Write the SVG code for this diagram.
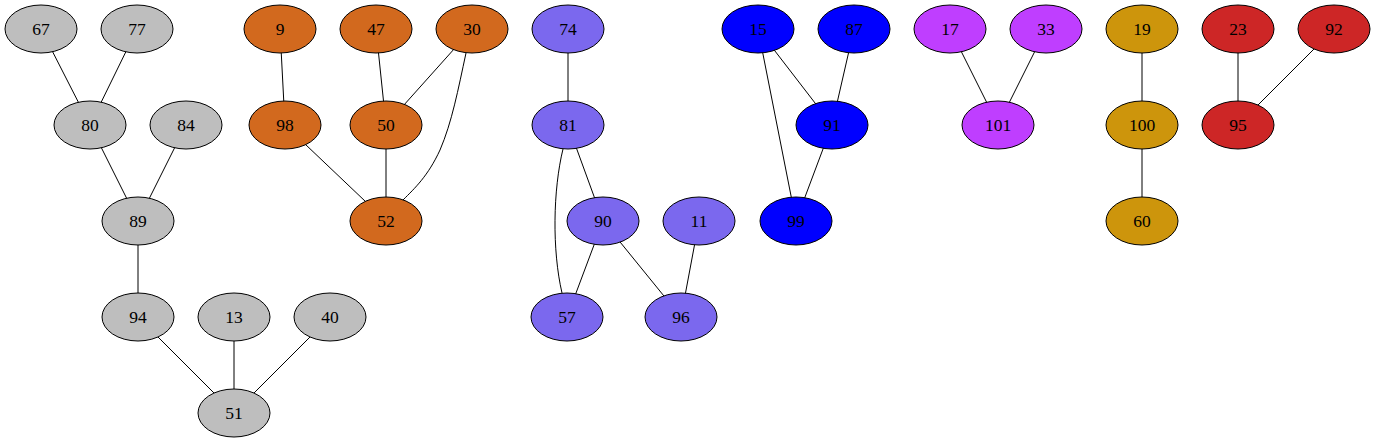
<svg xmlns="http://www.w3.org/2000/svg" width="1376" height="443" viewBox="0 0 1376 443">
<style>
.n ellipse{stroke:#000;stroke-width:1}
.n text{font-family:"Liberation Serif","Times New Roman",serif;font-size:17.5px;text-anchor:middle;fill:#000}
.e line,.e path{stroke:#000;stroke-width:1;fill:none}
.gray ellipse{fill:#bebebe}
.org ellipse{fill:#d2691e}
.sla ellipse{fill:#7b68ee}
.blu ellipse{fill:#0000ff}
.pur ellipse{fill:#bf3eff}
.gld ellipse{fill:#cd950c}
.red ellipse{fill:#cd2626}
</style>
<rect width="1376" height="443" fill="#fff"/>
<g id="edges" class="e">
<line x1="41" y1="29" x2="90" y2="125"/>
<line x1="137" y1="29" x2="90" y2="125"/>
<line x1="90" y1="125" x2="138" y2="221"/>
<line x1="186" y1="125" x2="138" y2="221"/>
<line x1="138" y1="221" x2="138" y2="317"/>
<line x1="138" y1="317" x2="234" y2="413"/>
<line x1="234" y1="317" x2="234" y2="413"/>
<line x1="330" y1="317" x2="234" y2="413"/>
<line x1="280" y1="29" x2="285" y2="125"/>
<line x1="285" y1="125" x2="386" y2="221"/>
<line x1="376" y1="29" x2="386" y2="125"/>
<line x1="472" y1="29" x2="386" y2="125"/>
<line x1="386" y1="125" x2="386" y2="221"/>
<path d="M466,53 C458,90 452,122 440,150 C428,176 415,188 403,200"/>
<line x1="568" y1="29" x2="568" y2="125"/>
<line x1="568" y1="125" x2="603" y2="221"/>
<path d="M563,149 C553,190 552,250 562,293"/>
<line x1="603" y1="221" x2="567" y2="317"/>
<line x1="603" y1="221" x2="681" y2="317"/>
<line x1="699" y1="221" x2="681" y2="317"/>
<line x1="758" y1="29" x2="832" y2="125"/>
<line x1="758" y1="29" x2="796" y2="221"/>
<line x1="854" y1="29" x2="832" y2="125"/>
<line x1="832" y1="125" x2="796" y2="221"/>
<line x1="950" y1="29" x2="998" y2="125"/>
<line x1="1046" y1="29" x2="998" y2="125"/>
<line x1="1142" y1="29" x2="1142" y2="125"/>
<line x1="1142" y1="125" x2="1142" y2="221"/>
<line x1="1238" y1="29" x2="1238" y2="125"/>
<line x1="1334" y1="29" x2="1238" y2="125"/>
</g>
<g id="n67" class="n gray"><ellipse cx="41" cy="29" rx="36" ry="24"/><text x="41" y="34.5">67</text></g>
<g id="n77" class="n gray"><ellipse cx="137" cy="29" rx="36" ry="24"/><text x="137" y="34.5">77</text></g>
<g id="n80" class="n gray"><ellipse cx="90" cy="125" rx="36" ry="24"/><text x="90" y="130.5">80</text></g>
<g id="n84" class="n gray"><ellipse cx="186" cy="125" rx="36" ry="24"/><text x="186" y="130.5">84</text></g>
<g id="n89" class="n gray"><ellipse cx="138" cy="221" rx="36" ry="24"/><text x="138" y="226.5">89</text></g>
<g id="n94" class="n gray"><ellipse cx="138" cy="317" rx="36" ry="24"/><text x="138" y="322.5">94</text></g>
<g id="n13" class="n gray"><ellipse cx="234" cy="317" rx="36" ry="24"/><text x="234" y="322.5">13</text></g>
<g id="n40" class="n gray"><ellipse cx="330" cy="317" rx="36" ry="24"/><text x="330" y="322.5">40</text></g>
<g id="n51" class="n gray"><ellipse cx="234" cy="413" rx="36" ry="24"/><text x="234" y="418.5">51</text></g>
<g id="n9" class="n org"><ellipse cx="280" cy="29" rx="36" ry="24"/><text x="280" y="34.5">9</text></g>
<g id="n47" class="n org"><ellipse cx="376" cy="29" rx="36" ry="24"/><text x="376" y="34.5">47</text></g>
<g id="n30" class="n org"><ellipse cx="472" cy="29" rx="36" ry="24"/><text x="472" y="34.5">30</text></g>
<g id="n98" class="n org"><ellipse cx="285" cy="125" rx="36" ry="24"/><text x="285" y="130.5">98</text></g>
<g id="n50" class="n org"><ellipse cx="386" cy="125" rx="36" ry="24"/><text x="386" y="130.5">50</text></g>
<g id="n52" class="n org"><ellipse cx="386" cy="221" rx="36" ry="24"/><text x="386" y="226.5">52</text></g>
<g id="n74" class="n sla"><ellipse cx="568" cy="29" rx="36" ry="24"/><text x="568" y="34.5">74</text></g>
<g id="n81" class="n sla"><ellipse cx="568" cy="125" rx="36" ry="24"/><text x="568" y="130.5">81</text></g>
<g id="n90" class="n sla"><ellipse cx="603" cy="221" rx="36" ry="24"/><text x="603" y="226.5">90</text></g>
<g id="n11" class="n sla"><ellipse cx="699" cy="221" rx="36" ry="24"/><text x="699" y="226.5">11</text></g>
<g id="n57" class="n sla"><ellipse cx="567" cy="317" rx="36" ry="24"/><text x="567" y="322.5">57</text></g>
<g id="n96" class="n sla"><ellipse cx="681" cy="317" rx="36" ry="24"/><text x="681" y="322.5">96</text></g>
<g id="n15" class="n blu"><ellipse cx="758" cy="29" rx="36" ry="24"/><text x="758" y="34.5">15</text></g>
<g id="n87" class="n blu"><ellipse cx="854" cy="29" rx="36" ry="24"/><text x="854" y="34.5">87</text></g>
<g id="n91" class="n blu"><ellipse cx="832" cy="125" rx="36" ry="24"/><text x="832" y="130.5">91</text></g>
<g id="n99" class="n blu"><ellipse cx="796" cy="221" rx="36" ry="24"/><text x="796" y="226.5">99</text></g>
<g id="n17" class="n pur"><ellipse cx="950" cy="29" rx="36" ry="24"/><text x="950" y="34.5">17</text></g>
<g id="n33" class="n pur"><ellipse cx="1046" cy="29" rx="36" ry="24"/><text x="1046" y="34.5">33</text></g>
<g id="n101" class="n pur"><ellipse cx="998" cy="125" rx="36" ry="24"/><text x="998" y="130.5">101</text></g>
<g id="n19" class="n gld"><ellipse cx="1142" cy="29" rx="36" ry="24"/><text x="1142" y="34.5">19</text></g>
<g id="n100" class="n gld"><ellipse cx="1142" cy="125" rx="36" ry="24"/><text x="1142" y="130.5">100</text></g>
<g id="n60" class="n gld"><ellipse cx="1142" cy="221" rx="36" ry="24"/><text x="1142" y="226.5">60</text></g>
<g id="n23" class="n red"><ellipse cx="1238" cy="29" rx="36" ry="24"/><text x="1238" y="34.5">23</text></g>
<g id="n92" class="n red"><ellipse cx="1334" cy="29" rx="36" ry="24"/><text x="1334" y="34.5">92</text></g>
<g id="n95" class="n red"><ellipse cx="1238" cy="125" rx="36" ry="24"/><text x="1238" y="130.5">95</text></g>
</svg>
